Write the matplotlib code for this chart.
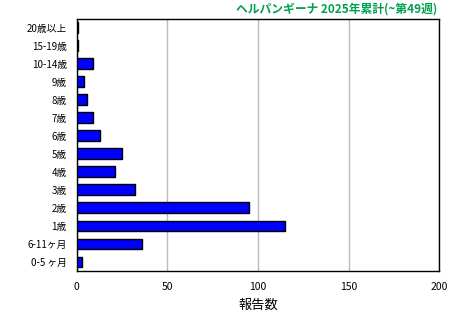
import matplotlib
matplotlib.use("Agg")
import matplotlib.pyplot as plt

plt.rcParams['font.family'] = ['Noto Sans CJK JP', 'DejaVu Sans']

# age groups, top to bottom as shown
age_groups = ["20歳以上", "15-19歳", "10-14歳", "9歳", "8歳", "7歳", "6歳",
              "5歳", "4歳", "3歳", "2歳", "1歳", "6-11ヶ月", "0-5 ヶ月"]
reports = [1, 1, 9, 4, 6, 9, 13, 25, 21, 32, 95, 115, 36, 3]

title = "ヘルパンギーナ 2025年累計(~第49週)"

fig = plt.figure(figsize=(4.6, 3.2), dpi=100)
ax = fig.add_axes([76.5 / 460, 1 - 271 / 320, (439.5 - 76.5) / 460, (271 - 18.5) / 320])

y = list(range(len(age_groups)))
ax.barh(y, reports, height=0.6, color="#0000FF", edgecolor="black", linewidth=1, zorder=3)

ax.set_ylim(len(age_groups) - 0.5, -0.5)
ax.set_yticks(y)
ax.set_yticklabels(age_groups, fontsize=7)
ax.set_xlim(0, 200)
ax.set_xticks([0, 50, 100, 150, 200])
ax.tick_params(axis="x", labelsize=7.5, length=0, pad=8)
ax.tick_params(axis="y", length=0, pad=7)
ax.grid(axis="x", color="#BBBBBB", linewidth=1, zorder=0)
for s in ax.spines.values():
    s.set_color("black")
    s.set_linewidth(1)

ax.set_xlabel("報告数", fontsize=9.5, labelpad=5)
fig.text(437 / 460, 1 - 9 / 320, title, ha="right", va="center",
         color="#00A050", fontsize=8.5, fontweight="bold")

fig.savefig("out.png", dpi=100)
